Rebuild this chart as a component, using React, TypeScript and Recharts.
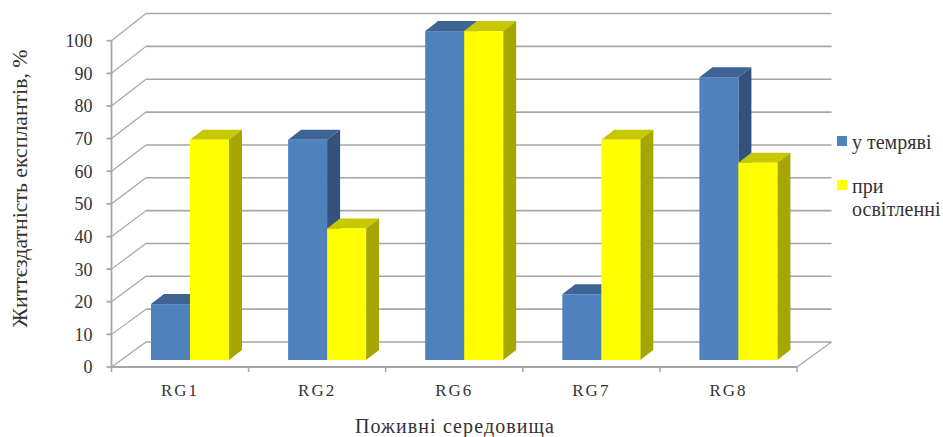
import React from 'react';
import { BarChart, Bar, XAxis, YAxis, CartesianGrid, Legend } from 'recharts';

const categories = ['RG1', 'RG2', 'RG6', 'RG7', 'RG8'];
const darkValues = [17, 67, 100, 20, 86];
const lightValues = [67, 40, 100, 67, 60];
const yTicks = [0, 10, 20, 30, 40, 50, 60, 70, 80, 90, 100];

const rows = categories.map((name, i) => ({ name, dark: darkValues[i], light: lightValues[i] }));

const WIDTH = 943;
const HEIGHT = 437;
const PLOT_LEFT = 111.5;
const PLOT_RIGHT = 797;
const PLOT_TOP = 40.7;
const PLOT_BOTTOM = 367;
const BAND = (PLOT_RIGHT - PLOT_LEFT) / categories.length;

// fake 3D: back wall and bar depth offsets
const WALL_DX = 34.5;
const WALL_DY = 25;
const WALL_STRETCH = 1.0066;
const BAR_DX = 9.5;
const BAR_DY = 7;
const BAR_STRETCH = 1.008;
const DEPTH_X = 13;
const DEPTH_Y = 10;

const AXIS = '#a6a6a6';
const TEXT = '#333333';
const SERIF = '"Liberation Serif", serif';

const poly = (pts: number[][]) => pts.map((p) => p.join(',')).join(' ');

const Box3D = (props: any) => {
  const { x, y, width, height, fill, topFill, sideFill } = props;
  const left = x + BAR_DX;
  const right = left + width;
  const bottom = y + height - BAR_DY;
  const top = bottom - height * BAR_STRETCH;
  return (
    <g>
      <polygon
        points={poly([[left, top], [left + DEPTH_X, top - DEPTH_Y], [right + DEPTH_X, top - DEPTH_Y], [right, top]])}
        fill={topFill}
      />
      <polygon
        points={poly([[right, top], [right + DEPTH_X, top - DEPTH_Y], [right + DEPTH_X, bottom - DEPTH_Y], [right, bottom]])}
        fill={sideFill}
      />
      <rect x={left} y={top} width={width} height={bottom - top} fill={fill} />
    </g>
  );
};

// each gridline runs from the axis up the side wall, then along the back wall
const WallLine = (props: any) => {
  const { x1, x2, y1 } = props;
  const backY = PLOT_BOTTOM - WALL_DY - (PLOT_BOTTOM - y1) * WALL_STRETCH;
  const isFloor = Math.abs(y1 - PLOT_BOTTOM) < 0.5;
  return (
    <g>
      <line x1={x1} y1={y1} x2={x1 + WALL_DX} y2={backY} stroke={AXIS} strokeWidth={1.2} />
      <line x1={x1 + WALL_DX} y1={backY} x2={x2 + WALL_DX} y2={backY} stroke={AXIS} strokeWidth={1.6} />
      {isFloor && <line x1={x2} y1={y1} x2={x2 + WALL_DX} y2={backY} stroke={AXIS} strokeWidth={1.2} />}
    </g>
  );
};

// category ticks sit on band boundaries, labels in the middle of the band
const CategoryTick = (props: any) => {
  const { x, payload, index } = props;
  const edge = x + BAND / 2;
  return (
    <g>
      {index === 0 && <line x1={x - BAND / 2} y1={PLOT_BOTTOM} x2={x - BAND / 2} y2={PLOT_BOTTOM + 5} stroke={AXIS} strokeWidth={1.5} />}
      <line x1={edge} y1={PLOT_BOTTOM} x2={edge} y2={PLOT_BOTTOM + 5} stroke={AXIS} strokeWidth={1.5} />
      <text x={x} y={PLOT_BOTTOM + 29} textAnchor="middle" fontFamily={SERIF} fontSize={17} letterSpacing={2} fill={TEXT}>
        {payload.value}
      </text>
    </g>
  );
};

const LegendList = ({ payload }: any) => (
  <div style={{ fontFamily: SERIF, fontSize: 20, lineHeight: '23px', color: TEXT }}>
    {(payload || []).map((item: any) => (
      <div key={item.value} style={{ display: 'flex', marginBottom: 21.5 }}>
        <span style={{ width: 10, height: 10, marginTop: 5, marginRight: 5, flex: 'none', background: item.color }} />
        <span style={{ width: 91 }}>{item.value}</span>
      </div>
    ))}
  </div>
);

export default function App() {
  return (
    <div style={{ position: 'absolute', left: 0, top: 0, background: '#fff' }}>
      <BarChart
        width={WIDTH}
        height={HEIGHT}
        data={rows}
        barSize={39}
        barGap={0}
        margin={{ top: PLOT_TOP, right: WIDTH - PLOT_RIGHT, bottom: 0, left: 0 }}
      >
        <CartesianGrid vertical={false} horizontal={(p: any) => <WallLine key={p.key} {...p} />} />
        <XAxis
          dataKey="name"
          height={HEIGHT - PLOT_BOTTOM}
          stroke={AXIS}
          strokeWidth={1.8}
          tickLine={false}
          tick={<CategoryTick />}
          interval={0}
          label={{
            content: () => (
              <text x={455} y={433} textAnchor="middle" fontFamily={SERIF} fontSize={20} letterSpacing={1.1} fill={TEXT}>
                Поживні середовища
              </text>
            ),
          }}
        />
        <YAxis
          domain={[0, 100]}
          ticks={yTicks}
          interval={0}
          width={PLOT_LEFT}
          stroke={AXIS}
          strokeWidth={1.8}
          tickSize={5}
          tickMargin={14}
          tick={{ fontFamily: SERIF, fontSize: 18, fill: TEXT }}
          label={{
            content: () => (
              <text
                transform="translate(27 188.5) rotate(-90)"
                textAnchor="middle"
                fontFamily={SERIF}
                fontSize={21.8}
                fill={TEXT}
              >
                Життєздатність експлантів, %
              </text>
            ),
          }}
        />
        <Legend
          layout="vertical"
          align="center"
          verticalAlign="middle"
          itemSorter={null}
          content={<LegendList />}
          wrapperStyle={{ left: 837, top: 130.5, width: 106 }}
        />
        <Bar
          dataKey="dark"
          name="у темряві"
          fill="#4f81bd"
          isAnimationActive={false}
          shape={(p: any) => <Box3D {...p} topFill="#3e6494" sideFill="#33537e" />}
        />
        <Bar
          dataKey="light"
          name="при освітленні"
          fill="#ffff00"
          isAnimationActive={false}
          shape={(p: any) => <Box3D {...p} topFill="#c8c800" sideFill="#a6a600" />}
        />
      </BarChart>
    </div>
  );
}
